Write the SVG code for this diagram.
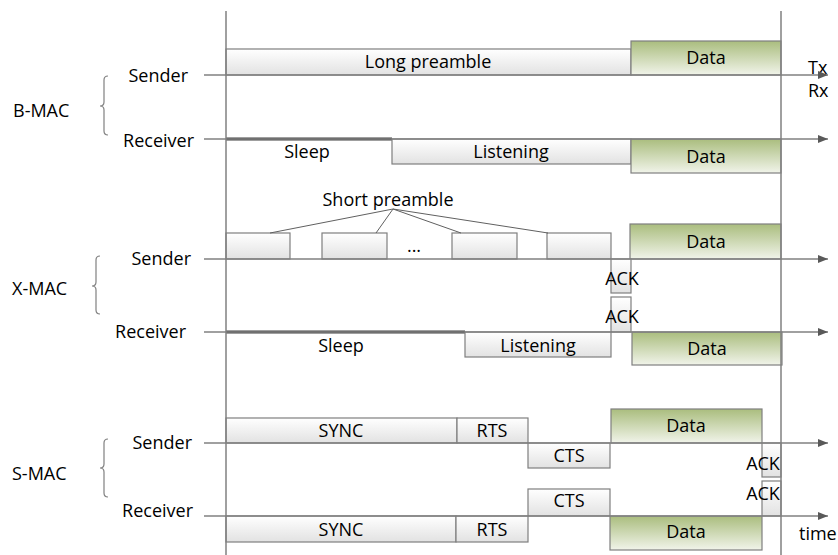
<svg xmlns="http://www.w3.org/2000/svg" width="838" height="555" viewBox="0 0 838 555">
<defs>
<linearGradient id="gGray" x1="0" y1="0" x2="0" y2="1">
<stop offset="0" stop-color="#ffffff"/>
<stop offset="1" stop-color="#e2e2e2"/>
</linearGradient>
<linearGradient id="gGreen" x1="0" y1="0" x2="0" y2="1">
<stop offset="0" stop-color="#aabd7e"/>
<stop offset="1" stop-color="#f1f4ea"/>
</linearGradient>
<marker id="arr" markerWidth="10" markerHeight="8" refX="10" refY="4" orient="auto" markerUnits="userSpaceOnUse">
<path d="M0,0 L10,4 L0,8 Z" fill="#595959"/>
</marker>
</defs>
<style>
text{font-family:"Open Sans","Liberation Sans",Arial,sans-serif;font-size:18px;fill:#000;}
.m{text-anchor:middle;}
.e{text-anchor:end;}
.box{fill:url(#gGray);stroke:#7f7f7f;stroke-width:1.2;}
.data{fill:url(#gGreen);stroke:#7f7f7f;stroke-width:1.2;}
.axis{stroke:#808080;stroke-width:1.5;fill:none;marker-end:url(#arr);}
.vline{stroke:#808080;stroke-width:1.5;fill:none;}
.sleep{stroke:#404040;stroke-width:3;fill:none;}
.brace{stroke:#808080;stroke-width:1.2;fill:none;}
.ptr{stroke:#606060;stroke-width:1;fill:none;}
</style>
<rect width="838" height="555" fill="#ffffff"/>

<!-- B-MAC -->
<g id="bmac-label">
<text x="13" y="117">B-MAC</text>
<path class="brace" d="M108,76 Q104,76 104,80 L104,102 Q104,106 100,106 Q104,106 104,110 L104,131 Q104,135 108,135"/>
<text class="e" x="188" y="82">Sender</text>
<text class="e" x="194" y="147">Receiver</text>
</g>
<g id="b-long-preamble"><rect class="box" x="226" y="49" width="405" height="26"/><text class="m" x="428" y="68">Long preamble</text></g>
<g id="b-data-tx"><rect class="data" x="631" y="41" width="150" height="34"/><text class="m" x="706" y="64">Data</text></g>
<g id="b-sleep"><path class="sleep" d="M226,139 L392,139"/><text class="m" x="307" y="158">Sleep</text></g>
<g id="b-listening"><rect class="box" x="392" y="139" width="239" height="25"/><text class="m" x="511" y="158">Listening</text></g>
<g id="b-data-rx"><rect class="data" x="631" y="139" width="150" height="34"/><text class="m" x="706" y="163">Data</text></g>
<g id="txrx"><text x="808" y="74">Tx</text><text x="808" y="97">Rx</text></g>

<!-- X-MAC -->
<g id="xmac-label">
<text x="12" y="295">X-MAC</text>
<path class="brace" d="M100,256 Q96,256 96,260 L96,282 Q96,286 92,286 Q96,286 96,290 L96,310 Q96,314 100,314"/>
<text class="e" x="191" y="265">Sender</text>
<text class="e" x="186" y="338">Receiver</text>
</g>
<g id="x-short-preamble">
<rect class="box" x="226" y="233" width="64" height="26"/>
<rect class="box" x="322" y="233" width="65" height="26"/>
<rect class="box" x="452" y="233" width="65" height="26"/>
<rect class="box" x="547" y="233" width="64" height="26"/>
<text class="m" x="414" y="252">...</text>
<text class="m" x="388" y="206">Short preamble</text>
</g>
<g id="x-data-tx"><rect class="data" x="630" y="224" width="151" height="35"/><text class="m" x="706" y="248">Data</text></g>
<g id="x-ack-tx"><rect class="box" x="611" y="259" width="20" height="34"/><text class="m" x="622" y="285">ACK</text></g>
<g id="x-ack-rx"><rect class="box" x="611" y="297" width="20" height="35"/><text class="m" x="622" y="323">ACK</text></g>
<g id="x-sleep"><path class="sleep" d="M226,332 L465,332"/><text class="m" x="341" y="352">Sleep</text></g>
<g id="x-listening"><rect class="box" x="465" y="332" width="146" height="25"/><text class="m" x="538" y="352">Listening</text></g>
<g id="x-data-rx"><rect class="data" x="632" y="332" width="150" height="33"/><text class="m" x="707" y="355">Data</text></g>

<!-- S-MAC -->
<g id="smac-label">
<text x="12" y="480">S-MAC</text>
<path class="brace" d="M108,439 Q104,439 104,443 L104,464 Q104,468 100,468 Q104,468 104,472 L104,493 Q104,497 108,497"/>
<text class="e" x="192" y="449">Sender</text>
<text class="e" x="193" y="517">Receiver</text>
</g>
<g id="s-sync-tx"><rect class="box" x="226" y="418" width="231" height="25"/><text class="m" x="341" y="437">SYNC</text></g>
<g id="s-rts-tx"><rect class="box" x="457" y="418" width="71" height="25"/><text class="m" x="492" y="437">RTS</text></g>
<g id="s-cts-tx"><rect class="box" x="528" y="443" width="82" height="25"/><text class="m" x="569" y="462">CTS</text></g>
<g id="s-data-tx"><rect class="data" x="611" y="409" width="151" height="34"/><text class="m" x="686" y="432">Data</text></g>
<g id="s-ack-tx"><rect class="box" x="762" y="443" width="19" height="34"/><text class="m" x="763" y="470">ACK</text></g>
<g id="s-ack-rx"><rect class="box" x="762" y="481" width="19" height="35"/><text class="m" x="763" y="500">ACK</text></g>
<g id="s-cts-rx"><rect class="box" x="528" y="489" width="82" height="27"/><text class="m" x="569" y="507">CTS</text></g>
<g id="s-sync-rx"><rect class="box" x="226" y="516" width="230" height="26"/><text class="m" x="341" y="536">SYNC</text></g>
<g id="s-rts-rx"><rect class="box" x="456" y="516" width="72" height="26"/><text class="m" x="492" y="536">RTS</text></g>
<g id="s-data-rx"><rect class="data" x="610" y="516" width="152" height="34"/><text class="m" x="686" y="538">Data</text></g>
<g id="time-label"><text x="799" y="540">time</text></g>

<g id="connectors">
<path class="vline" d="M226,11 L226,555"/>
<path class="vline" d="M781,11 L781,555"/>
<path class="axis" d="M204,75 L828,75"/>
<path class="axis" d="M204,139 L828,139"/>
<path class="axis" d="M204,259 L828,259"/>
<path class="axis" d="M204,332 L828,332"/>
<path class="axis" d="M204,443 L828,443"/>
<path class="axis" d="M204,516 L828,516"/>
<path class="ptr" d="M270,233 L393,209 L376,233"/>
<path class="ptr" d="M393,209 L461,233"/>
<path class="ptr" d="M393,209 L548,233"/>
</g>
</svg>
